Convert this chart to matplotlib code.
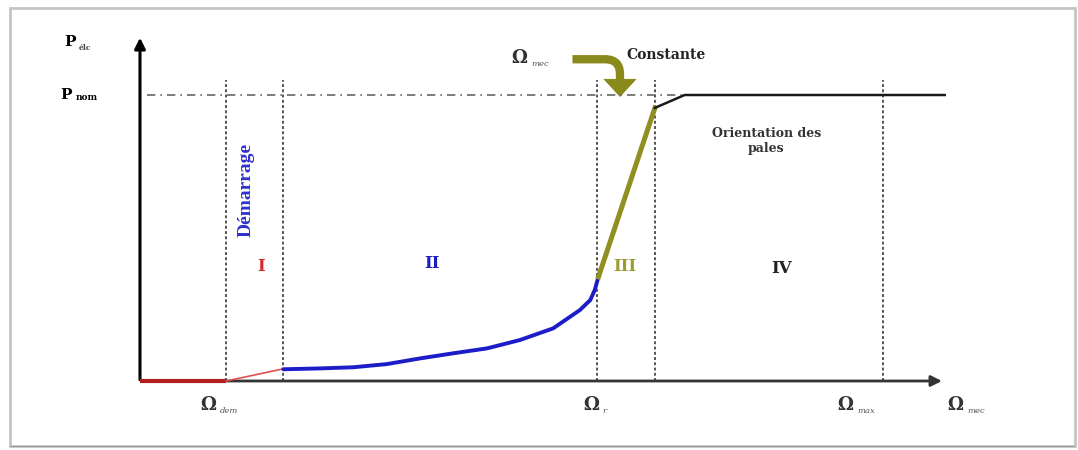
import matplotlib.pyplot as plt
from matplotlib.patches import FancyArrowPatch, Rectangle

# zone limits on the speed axis (Omega_dem, end I, Omega_r, end III, Omega_max)
omega_marks = [1.16, 1.92, 6.15, 6.93, 10.0]
p_nom = 1.0

# power curve, one piece per zone
stop_x = [0.0, 1.16]
stop_y = [0.0, 0.0]
start_x = [1.16, 1.92]
start_y = [0.0, 0.042]
zone2_x = [1.93, 2.42, 2.87, 3.32, 3.77, 4.22, 4.67, 5.11, 5.56, 5.92, 6.06, 6.12, 6.17]
zone2_y = [0.041, 0.044, 0.048, 0.059, 0.079, 0.097, 0.114, 0.143, 0.184, 0.248, 0.283, 0.318, 0.364]
zone3_x = [6.17, 6.93]
zone3_y = [0.364, 0.955]
zone4_x = [6.93, 7.33, 10.83]
zone4_y = [0.955, 1.0, 1.0]

zone_names = ["I", "II", "III", "IV"]
zone_colors = ["#d62828", "#1c1cc0", "#9c9c30", "#222222"]
zone_pos = [(1.63, 0.40), (3.93, 0.41), (6.53, 0.40), (8.64, 0.395)]

serif = "DejaVu Serif"
olive = "#8a8a1c"

fig = plt.figure(figsize=(10.78, 4.5), dpi=100)
ax = fig.add_axes([0, 0, 1, 1])
ax.set_xlim(-1.884, 12.624)
ax.set_ylim(-0.2413, 1.3322)
ax.axis("off")

# picture frame
fig.patches.append(Rectangle((0.009, 0.009), 0.988, 0.973, transform=fig.transFigure,
                             fill=False, ec="#c4c4c4", lw=2))
fig.patches.append(Rectangle((0.009, 0.006), 0.988, 0.004, transform=fig.transFigure,
                             fc="#9a9a9a", ec="none"))

# axes arrows
ax.annotate("", xy=(0, 1.21), xytext=(0, -0.005),
            arrowprops=dict(arrowstyle="-|>", lw=2.2, color="black", mutation_scale=16))
ax.annotate("", xy=(10.83, 0), xytext=(-0.01, 0),
            arrowprops=dict(arrowstyle="-|>", lw=2, color="#333333", mutation_scale=16))

# zone boundaries
for xm in omega_marks:
    ax.plot([xm, xm], [0, 1.052], color="#555555", lw=1.4, ls=(0, (1.5, 1.2)))

# nominal power
ax.plot([0.1, 7.33], [p_nom, p_nom], color="#666666", lw=1.2, ls=(0, (5, 3, 1, 3)))

# curve
ax.plot(stop_x, stop_y, color="#b01e1e", lw=3, solid_capstyle="butt", zorder=5)
ax.plot(start_x, start_y, color="#e05050", lw=1.2, zorder=5)
ax.plot(zone2_x, zone2_y, color="#1c1cc8", lw=2.8, solid_capstyle="round",
        solid_joinstyle="round", zorder=5)
ax.plot(zone3_x, zone3_y, color="#8f8f22", lw=3.6, zorder=5)
ax.plot(zone4_x, zone4_y, color="#1a1a1a", lw=1.8, zorder=5)

# labels
bold = dict(family=serif, fontweight="bold")
ax.text(-0.94, 1.185, "P", fontsize=11, ha="center", va="center", **bold)
ax.text(-0.82, 1.165, "élc", fontsize=5.5, ha="left", va="center", color="#444444", **bold)
ax.text(-1.0, 1.0, "P", fontsize=11, ha="center", va="center", **bold)
ax.text(-0.87, 0.99, "nom", fontsize=6.5, ha="left", va="center", **bold)

omega_labels = [(0.92, "dem"), (6.07, "r"), (9.49, "max"), (10.97, "mec")]
for xo, sub in omega_labels:
    ax.text(xo, -0.084, "Ω", fontsize=13, ha="center", va="center", color="#333333", **bold)
    ax.text(xo + 0.16, -0.105, sub, fontsize=6, ha="left", va="center", color="#555555",
            family=serif, style="italic")

ax.text(5.11, 1.13, "Ω", fontsize=13, ha="center", va="center", color="#333333", **bold)
ax.text(5.27, 1.108, "mec", fontsize=6, ha="left", va="center", color="#555555",
        family=serif, style="italic")
ax.text(6.55, 1.14, "Constante", fontsize=10, ha="left", va="center", color="#222222", **bold)
ax.text(8.43, 0.84, "Orientation des\npales", fontsize=9, ha="center", va="center",
        color="#333333", linespacing=1.2, **bold)
ax.text(1.43, 0.668, "Démarrage", fontsize=14, rotation=90, ha="center", va="center",
        color="#3030d0", family="Liberation Serif", fontweight="bold")

for name, col, (xz, yz) in zip(zone_names, zone_colors, zone_pos):
    ax.text(xz, yz, name, fontsize=12, ha="center", va="center", color=col, **bold)

# curved arrow pointing on the Omega_mec constant zone: bent tail + straight head
tail = FancyArrowPatch((5.82, 1.125), (6.46, 1.045),
                       connectionstyle="angle,angleA=0,angleB=90,rad=15",
                       arrowstyle="-", lw=6, color=olive, shrinkA=0, shrinkB=0,
                       capstyle="butt")
ax.add_patch(tail)
head = FancyArrowPatch((6.46, 1.055), (6.46, 0.993),
                       arrowstyle="simple,head_length=1.3,head_width=2.4,tail_width=0.6",
                       mutation_scale=10, color=olive, lw=0, shrinkA=0, shrinkB=0)
ax.add_patch(head)

fig.savefig("out.png", dpi=100)
